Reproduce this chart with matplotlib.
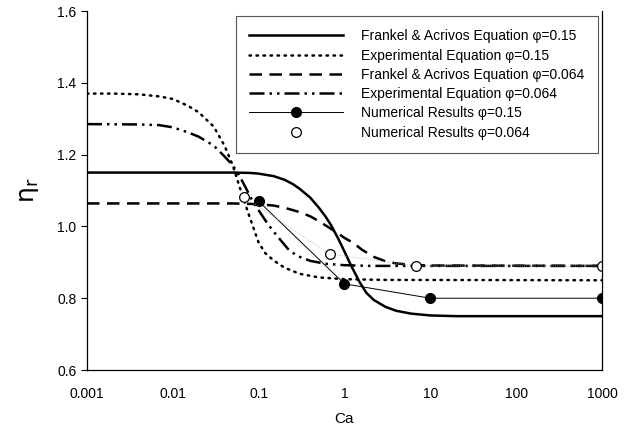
import matplotlib.pyplot as plt
from matplotlib.ticker import FixedLocator, FixedFormatter

plt.rcParams['font.family'] = ['Liberation Sans', 'DejaVu Sans']

# Frankel & Acrivos, phi=0.15
fa15_ca = [0.001, 0.05, 0.08, 0.1, 0.15, 0.2, 0.25, 0.3, 0.4, 0.5, 0.6, 0.7, 0.85, 1.0,
           1.2, 1.5, 1.8, 2.2, 3, 4, 6, 10, 20, 1000]
fa15_eta = [1.15, 1.15, 1.149, 1.147, 1.14, 1.13, 1.118, 1.105, 1.08, 1.053, 1.028, 1.003,
            0.965, 0.93, 0.89, 0.845, 0.815, 0.795, 0.776, 0.765, 0.757, 0.752, 0.75, 0.75]

# Experimental, phi=0.15
ex15_ca = [0.001, 0.002, 0.004, 0.007, 0.01, 0.015, 0.02, 0.03, 0.04, 0.05, 0.06, 0.075,
           0.1, 0.12, 0.15, 0.2, 0.3, 0.5, 1, 3, 1000]
ex15_eta = [1.37, 1.37, 1.368, 1.362, 1.355, 1.336, 1.318, 1.278, 1.225, 1.17, 1.11, 1.04,
            0.955, 0.925, 0.905, 0.885, 0.868, 0.858, 0.853, 0.851, 0.85]

# Frankel & Acrivos, phi=0.064
fa064_ca = [0.001, 0.05, 0.1, 0.15, 0.2, 0.3, 0.4, 0.5, 0.7, 0.85, 1.0, 1.27, 1.6, 2.2,
            3, 4, 6, 10, 1000]
fa064_eta = [1.064, 1.064, 1.062, 1.058, 1.052, 1.04, 1.028, 1.015, 0.993, 0.98, 0.968,
             0.954, 0.935, 0.915, 0.903, 0.897, 0.893, 0.891, 0.89]

# Experimental, phi=0.064
ex064_ca = [0.001, 0.004, 0.007, 0.01, 0.015, 0.02, 0.03, 0.04, 0.05, 0.06, 0.07, 0.085,
            0.1, 0.126, 0.15, 0.18, 0.22, 0.28, 0.4, 0.6, 1, 2, 1000]
ex064_eta = [1.285, 1.284, 1.282, 1.276, 1.262, 1.25, 1.225, 1.195, 1.17, 1.14, 1.11, 1.07,
             1.045, 1.009, 0.985, 0.962, 0.937, 0.918, 0.904, 0.896, 0.892, 0.89, 0.89]

# Numerical results
num15_ca = [0.1, 1, 10, 1000]
num15_eta = [1.07, 0.84, 0.80, 0.80]
num064_ca = [0.068, 0.67, 6.9, 1000]
num064_eta = [1.082, 0.923, 0.89, 0.89]

xticks = [0.001, 0.01, 0.1, 1, 10, 100, 1000]
xlabels = ['0.001', '0.01', '0.1', '1', '10', '100', '1000']

fig = plt.figure(figsize=(6.28, 4.32), dpi=100)
ax = fig.add_axes([0.1385, 0.1435, 0.82, 0.831])

ax.plot(fa15_ca, fa15_eta, color='black', lw=1.8, ls='-',
        label='Frankel & Acrivos Equation φ=0.15')
ax.plot(ex15_ca, ex15_eta, color='black', lw=1.8, ls=(0, (0.6, 2.2)), dash_capstyle='round',
        label='Experimental Equation φ=0.15')
ax.plot(fa064_ca, fa064_eta, color='black', lw=1.8, ls=(0, (5, 3)),
        label='Frankel & Acrivos Equation φ=0.064')
ax.plot(ex064_ca, ex064_eta, color='black', lw=1.8, ls=(0, (6, 2, 1, 2, 1, 2)),
        label='Experimental Equation φ=0.064')
ax.plot(num15_ca, num15_eta, color='black', lw=0.7, marker='o', ms=7,
        label='Numerical Results φ=0.15')
ax.plot(num064_ca, num064_eta, color='#aaaaaa', lw=0.6, ls=':')
ax.plot(num064_ca, num064_eta, ls='none', marker='o', ms=7, mfc='white', mec='black',
        mew=0.9, label='Numerical Results φ=0.064')

ax.set_xscale('log')
ax.set_xlim(0.001, 1000)
ax.set_ylim(0.6, 1.6)
ax.xaxis.set_major_locator(FixedLocator(xticks))
ax.xaxis.set_major_formatter(FixedFormatter(xlabels))
ax.xaxis.set_minor_locator(FixedLocator([]))
ax.tick_params(axis='x', length=0, pad=12, labelsize=10)
ax.set_yticks([0.6, 0.8, 1.0, 1.2, 1.4, 1.6])
ax.set_yticklabels(['0.6', '0.8', '1.0', '1.2', '1.4', '1.6'])
ax.tick_params(axis='y', length=4, width=0.8, direction='out', labelsize=10)
ax.spines['top'].set_visible(False)
for s in ['left', 'bottom', 'right']:
    ax.spines[s].set_linewidth(0.9)

ax.set_xlabel('Ca', fontsize=11, labelpad=8)
ax.set_ylabel(r'$\mathrm{\eta_r}$', fontsize=18, labelpad=12)

leg = ax.legend(loc='upper right', bbox_to_anchor=(0.992, 0.986), borderaxespad=0,
                fontsize=10, handlelength=6.8, handletextpad=1.3, labelspacing=0.38,
                fancybox=False, framealpha=1, edgecolor='#555555', borderpad=0.95)
leg.get_frame().set_linewidth(0.8)

fig.savefig('out.png', dpi=100)
